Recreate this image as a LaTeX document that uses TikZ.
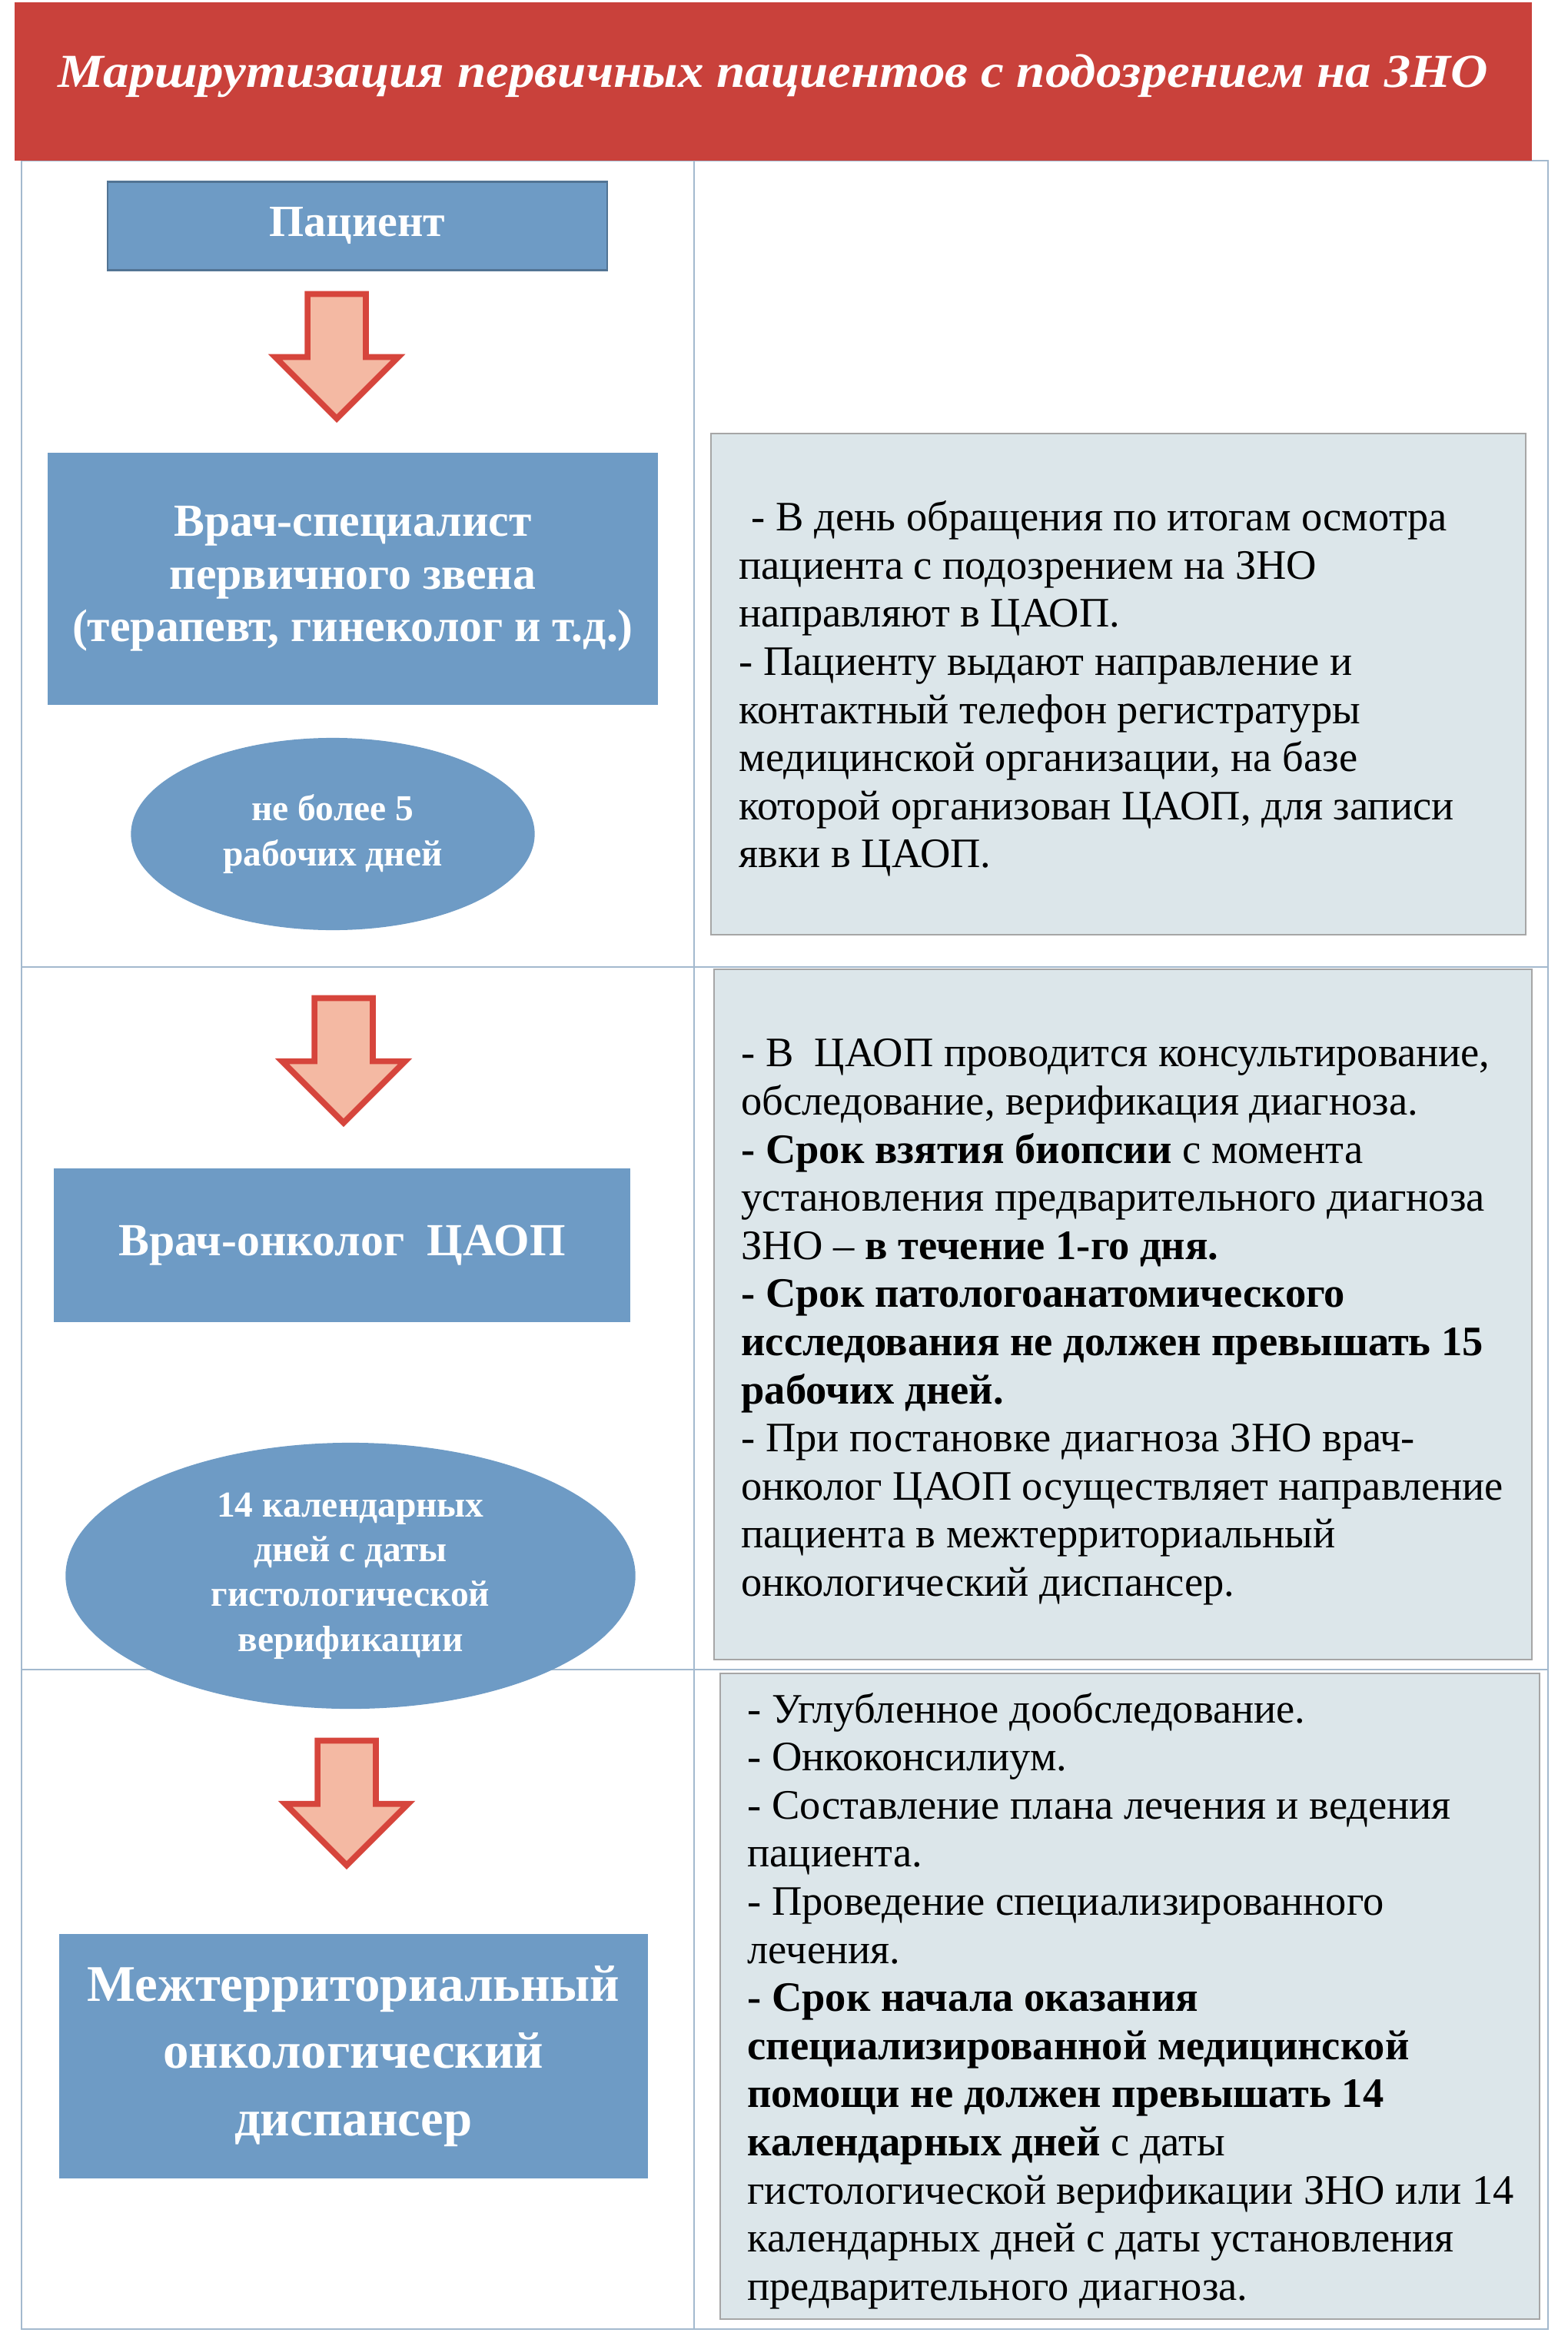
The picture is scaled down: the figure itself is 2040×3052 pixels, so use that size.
\documentclass[tikz,border=0pt]{standalone}
\usepackage{fontspec}
\setmainfont{Liberation Serif}
\usepackage{xcolor}
\usepackage{tikz}
\usetikzlibrary{shapes.geometric,shapes.arrows,positioning}

\definecolor{bannerred}{HTML}{C9413B}
\definecolor{stageblue}{HTML}{6E9BC5}
\definecolor{panelgray}{HTML}{DCE6EA}
\definecolor{gridblue}{HTML}{A3B9CE}
\definecolor{arrowfill}{HTML}{F4B9A3}
\definecolor{arrowred}{HTML}{D6453C}

\begin{document}
\begin{tikzpicture}[
    x=0.01cm,y=-0.01cm,
    cell/.style={draw=gridblue,line width=0.8pt},
    banner/.style={rectangle,fill=bannerred,text=white,inner sep=0pt,
      font=\fontsize{17.5}{21}\selectfont\bfseries\itshape},
    stage/.style={rectangle,fill=stageblue,text=white,align=center,inner sep=0pt},
    term/.style={ellipse,fill=stageblue,text=white,align=center,inner sep=0pt,
      font=\fontsize{13.5}{16.6}\selectfont\bfseries},
    panel/.style={rectangle,fill=panelgray,draw=black!35,line width=0.5pt,inner sep=0pt},
    body/.style={anchor=west,align=left,inner sep=0pt,
      font=\fontsize{15.5}{17.8}\selectfont},
    fatarrow/.style={single arrow,shape border rotate=270,fill=arrowfill,draw=arrowred,
      line width=2.2pt,single arrow head extend=0.42cm,single arrow tip angle=90,
      inner sep=0.34cm,minimum height=1.62cm,anchor=tip}
  ]
    \useasboundingbox (0,0) rectangle (2040,3052);

    % table lines
    \draw[cell] (28,209) rectangle (2014,3030);
    \draw[cell] (903,209) -- (903,3030);
    \draw[cell] (28,1258) -- (2014,1258);
    \draw[cell] (28,2172) -- (2014,2172);

    \node[banner,minimum width=19.72cm,minimum height=2.06cm,text depth=8pt] (title)
      at (1006,106) {\scalebox{1.09}[1]{Маршрутизация первичных пациентов с подозрением на ЗНО}};

    % left column
    \node[stage,draw=stageblue!75!black,line width=0.6pt,minimum width=6.5cm,
      minimum height=1.15cm,font=\fontsize{16.5}{19}\selectfont\bfseries] (patient)
      at (465,294) {Пациент};
    \node[stage,minimum width=7.94cm,minimum height=3.27cm,
      font=\fontsize{17}{19.4}\selectfont\bfseries] (spec)
      at (459,753) {Врач-специалист\\первичного звена\\(терапевт, гинеколог и т.д.)};
    \node[term,minimum width=5.25cm,minimum height=2.5cm] (days5)
      at (433,1085) {не более 5\\рабочих дней};
    \node[stage,minimum width=7.5cm,minimum height=1.99cm,
      font=\fontsize{17}{19.4}\selectfont\bfseries] (onco)
      at (445,1620) {Врач-онколог\ \ ЦАОП};
    \node[term,minimum width=7.41cm,minimum height=3.46cm] (days14)
      at (456,2050) {14 календарных\\дней с даты\\гистологической\\верификации};
    \node[stage,minimum width=7.65cm,minimum height=3.18cm,
      font=\fontsize{19}{25}\selectfont\bfseries] (disp)
      at (460,2675) {Межтерриториальный\\онкологический\\диспансер};

    \node[fatarrow] (arrA) at (438,550) {};
    \node[fatarrow] (arrB) at (447,1466) {};
    \node[fatarrow] (arrC) at (451,2432) {};

    % right column
    \node[panel,minimum width=10.6cm,minimum height=6.52cm] (infoA) at (1455,890) {};
    \node[body] (textA) at ([xshift=0.37cm,yshift=-0.06cm]infoA.west)
      {\hspace*{0.3em}- В день обращения по итогам осмотра\\
       пациента с подозрением на ЗНО\\
       направляют в ЦАОП.\\
       - Пациенту выдают направление и\\
       контактный телефон регистратуры\\
       медицинской организации, на базе\\
       которой организован ЦАОП, для записи\\
       явки в ЦАОП.};

    \node[panel,minimum width=10.64cm,minimum height=8.97cm] (infoB) at (1461,1710) {};
    \node[body] (textB) at ([xshift=0.36cm,yshift=-0.1cm]infoB.west)
      {- В\ \ ЦАОП проводится консультирование,\\
       обследование, верификация диагноза.\\
       \textbf{- Срок взятия биопсии} с момента\\
       установления предварительного диагноза\\
       ЗНО -- \textbf{в течение 1-го дня.}\\
       \textbf{- Срок патологоанатомического}\\
       \textbf{исследования не должен превышать 15}\\
       \textbf{рабочих дней.}\\
       - При постановке диагноза ЗНО врач-\\
       онколог ЦАОП осуществляет направление\\
       пациента в межтерриториальный\\
       онкологический диспансер.};

    \node[panel,minimum width=10.66cm,minimum height=8.39cm] (infoC) at (1470,2597) {};
    \node[body] (textC) at ([xshift=0.36cm,yshift=-0.06cm]infoC.west)
      {- Углубленное дообследование.\\
       - Онкоконсилиум.\\
       - Составление плана лечения и ведения\\
       пациента.\\
       - Проведение специализированного\\
       лечения.\\
       \textbf{- Срок начала оказания}\\
       \textbf{специализированной медицинской}\\
       \textbf{помощи не должен превышать 14}\\
       \textbf{календарных дней} с даты\\
       гистологической верификации ЗНО или 14\\
       календарных дней с даты установления\\
       предварительного диагноза.};
\end{tikzpicture}
\end{document}
